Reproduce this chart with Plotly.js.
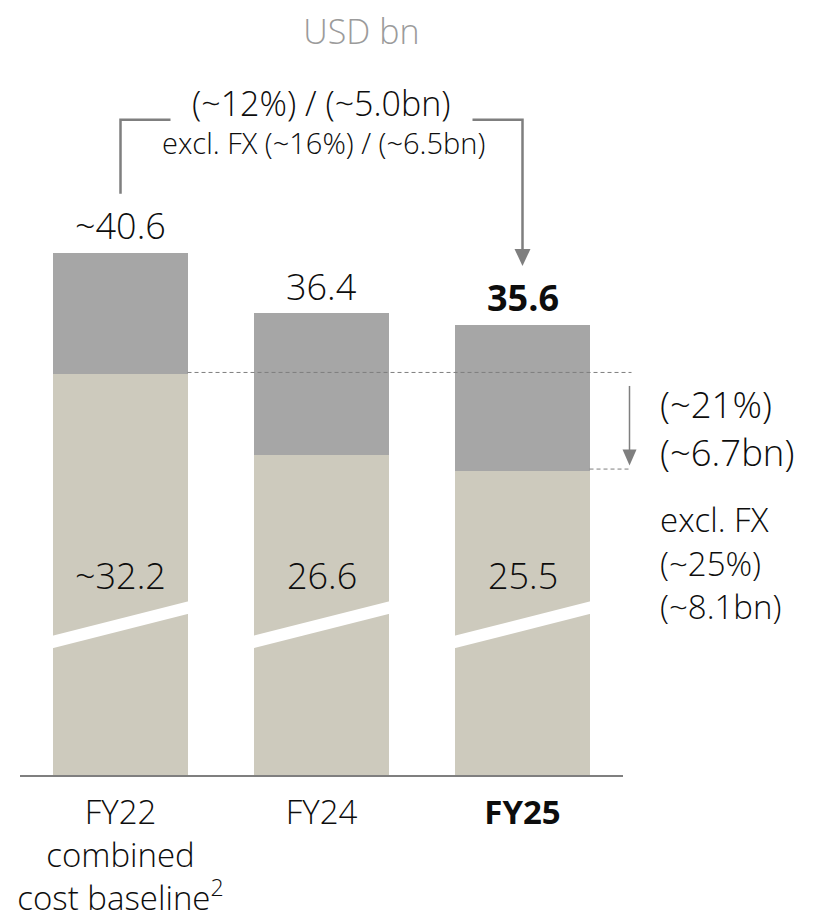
<!DOCTYPE html>
<html>
<head>
<meta charset="utf-8">
<script src="https://cdn.plot.ly/plotly-3.0.1.min.js"></script>
<style>
  html, body { margin: 0; padding: 0; background: #ffffff; }
  #chart { width: 815px; height: 920px; }
</style>
</head>
<body>
<div id="chart"></div>
<script>
// Operating cost development, USD bn
const categories = ["FY22", "FY24", "FY25"];
const tickLabels = ["FY22<br>combined<br>cost baseline<sup>2</sup>", "FY24", "<b>FY25</b>"];
const totalCost = [40.6, 36.4, 35.6];
const baseCost = [32.2, 26.6, 25.5];
const totalPrefix = ["~", "", ""];
const basePrefix = ["~", "", ""];
const boldLabel = [false, false, true];

const headlineChange = "(~12%) / (~5.0bn)";
const headlineChangeExFx = "excl. FX (~16%) / (~6.5bn)";
const baseChange = ["(~21%)", "(~6.7bn)"];
const baseChangeExFx = ["excl. FX", "(~25%)", "(~8.1bn)"];

// upper segment = total minus base
const upperCost = totalCost.map((t, i) => +(t - baseCost[i]).toFixed(1));
const xs = categories.map((_, i) => i);

// ---- geometry ----
const W = 815, H = 920;
const M = { l: 20, r: 0, t: 0, b: 143 };
const PX_PER_CAT = 201;      // horizontal pixels per category slot
const PX_PER_BN = 14.42;     // vertical pixels per USD bn
const Y_MIN = 4.25;          // truncated axis start (broken axis)
const plotW = W - M.l - M.r, plotH = H - M.t - M.b;
const xRange = [-0.5, -0.5 + plotW / PX_PER_CAT];
const yRange = [Y_MIN, Y_MIN + plotH / PX_PER_BN];
const px = p => p / PX_PER_BN;        // pixel length -> bn
const pxX = p => p / PX_PER_CAT;      // pixel length -> category units
const BAR_W = 0.667;
const HALF = BAR_W / 2;

const FONT = "'Open Sans', 'Noto Sans', sans-serif";
const W_LIGHT = 300;
const TXT = "#0d0d0d";
const LINE = "#7f7f7f";
const C_UPPER = "#a6a6a6";
const C_BASE = "#cdcabd";

const fmt = v => v.toFixed(1);
const wrapBold = (s, b) => b ? "<b>" + s + "</b>" : s;
const font = (size, color) => ({ family: FONT, size: size, color: color || TXT, weight: W_LIGHT });

const traces = [
  {
    type: "bar", x: xs, y: baseCost, width: BAR_W,
    marker: { color: C_BASE, line: { width: 0 } },
    hoverinfo: "skip"
  },
  {
    type: "bar", x: xs, y: upperCost, width: BAR_W,
    marker: { color: C_UPPER, line: { width: 0 } },
    hoverinfo: "skip"
  }
];

const annotations = [];
const shapes = [];

// value labels above the bars
xs.forEach(i => {
  annotations.push({
    x: i, y: totalCost[i], xref: "x", yref: "y",
    text: wrapBold(totalPrefix[i] + fmt(totalCost[i]), boldLabel[i]),
    showarrow: false, xanchor: "center", yanchor: "middle", yshift: 27,
    font: font(36)
  });
});

// base values inside the bars, on a common level
const BASE_LABEL_Y = Y_MIN + px(202);
xs.forEach(i => {
  annotations.push({
    x: i, y: BASE_LABEL_Y, xref: "x", yref: "y",
    text: basePrefix[i] + fmt(baseCost[i]),
    showarrow: false, xanchor: "center", yanchor: "middle",
    font: font(36)
  });
});

// axis break: white slanted band across each bar
const BREAK = { leftTop: Y_MIN + px(141), leftBot: Y_MIN + px(128.5), rightTop: Y_MIN + px(176), rightBot: Y_MIN + px(163.5) };
xs.forEach(i => {
  const xl = i - HALF - 0.01, xr = i + HALF + 0.01;
  shapes.push({
    type: "path", xref: "x", yref: "y", layer: "above",
    path: `M ${xl},${BREAK.leftBot} L ${xl},${BREAK.leftTop} L ${xr},${BREAK.rightTop} L ${xr},${BREAK.rightBot} Z`,
    fillcolor: "#ffffff", line: { width: 0 }
  });
});

// baseline
shapes.push({
  type: "line", xref: "x", yref: "y", layer: "above",
  x0: -0.5, x1: 2.5, y0: Y_MIN + px(1), y1: Y_MIN + px(1),
  line: { color: LINE, width: 2 }
});

// bracket FY22 -> FY25
const LEG_GAP = px(59);
const BRACKET_Y = Math.max(...totalCost) + px(133);
const TEXT_GAP = pxX(50);
const tipY = totalCost[2] + LEG_GAP;
const AH = px(17), AW = pxX(16);
shapes.push({
  type: "path", xref: "x", yref: "y", layer: "above",
  path: `M 0,${totalCost[0] + LEG_GAP} L 0,${BRACKET_Y} L ${TEXT_GAP},${BRACKET_Y}`,
  line: { color: LINE, width: 2.5 }
});
shapes.push({
  type: "path", xref: "x", yref: "y", layer: "above",
  path: `M ${2 - TEXT_GAP},${BRACKET_Y} L 2,${BRACKET_Y} L 2,${tipY + AH * 0.6}`,
  line: { color: LINE, width: 2.5 }
});
shapes.push({
  type: "path", xref: "x", yref: "y", layer: "above",
  path: `M ${2 - AW / 2},${tipY + AH} L ${2 + AW / 2},${tipY + AH} L 2,${tipY} Z`,
  fillcolor: LINE, line: { width: 0 }
});
annotations.push({
  x: 1, y: BRACKET_Y, xref: "x", yref: "y", text: headlineChange,
  showarrow: false, xanchor: "center", yanchor: "middle", yshift: 17,
  font: font(34)
});
annotations.push({
  x: 1.01, y: BRACKET_Y, xref: "x", yref: "y", text: headlineChangeExFx,
  showarrow: false, xanchor: "center", yanchor: "middle", yshift: -23,
  font: font(29)
});

// base reduction FY22 -> FY25 (dashed guides and arrow)
const GUIDE_X = 2 + pxX(109);
const ARROW_X = 2 + pxX(107);
shapes.push({
  type: "line", xref: "x", yref: "y", layer: "above",
  x0: 0 + HALF, x1: GUIDE_X, y0: baseCost[0] + px(1.5), y1: baseCost[0] + px(1.5),
  line: { color: LINE, width: 1, dash: "4px,3px" }
});
shapes.push({
  type: "line", xref: "x", yref: "y", layer: "above",
  x0: 2 + HALF, x1: GUIDE_X, y0: baseCost[2] + px(1.5), y1: baseCost[2] + px(1.5),
  line: { color: LINE, width: 1, dash: "4px,3px" }
});
const tip2 = baseCost[2] + px(5);
const AH2 = px(16), AW2 = pxX(14);
shapes.push({
  type: "line", xref: "x", yref: "y", layer: "above",
  x0: ARROW_X, x1: ARROW_X, y0: baseCost[0] - px(12), y1: tip2 + AH2 * 0.6,
  line: { color: LINE, width: 1.5 }
});
shapes.push({
  type: "path", xref: "x", yref: "y", layer: "above",
  path: `M ${ARROW_X - AW2 / 2},${tip2 + AH2} L ${ARROW_X + AW2 / 2},${tip2 + AH2} L ${ARROW_X},${tip2} Z`,
  fillcolor: LINE, line: { width: 0 }
});

const SIDE_X = 2 + pxX(135);
const midBase = (baseCost[0] + baseCost[2]) / 2;
[-18, 30].forEach((dy, k) => {
  annotations.push({
    x: SIDE_X, y: midBase, xref: "x", yref: "y", text: baseChange[k],
    showarrow: false, xanchor: "left", yanchor: "middle", yshift: -dy,
    font: font(36.5)
  });
});
[49, 93, 136].forEach((dy, k) => {
  annotations.push({
    x: SIDE_X, y: baseCost[2], xref: "x", yref: "y", text: baseChangeExFx[k],
    showarrow: false, xanchor: "left", yanchor: "middle", yshift: -dy,
    font: font(33)
  });
});

const layout = {
  width: W, height: H,
  margin: M,
  paper_bgcolor: "#ffffff", plot_bgcolor: "#ffffff",
  barmode: "stack", showlegend: false,
  title: {
    text: "USD bn", x: 350 / W, xanchor: "center", xref: "paper",
    y: 1 - 32 / H, yanchor: "middle", yref: "container",
    font: font(34, "#9b9b9b")
  },
  xaxis: {
    range: xRange, tickvals: xs, ticktext: tickLabels,
    showgrid: false, zeroline: false, showline: false, ticks: "",
    ticklabelstandoff: 13,
    tickfont: font(33), fixedrange: true
  },
  yaxis: {
    range: yRange, visible: false, showgrid: false, zeroline: false, fixedrange: true
  },
  annotations: annotations,
  shapes: shapes
};

Plotly.newPlot("chart", traces, layout, { displayModeBar: false, staticPlot: true });
</script>
</body>
</html>
